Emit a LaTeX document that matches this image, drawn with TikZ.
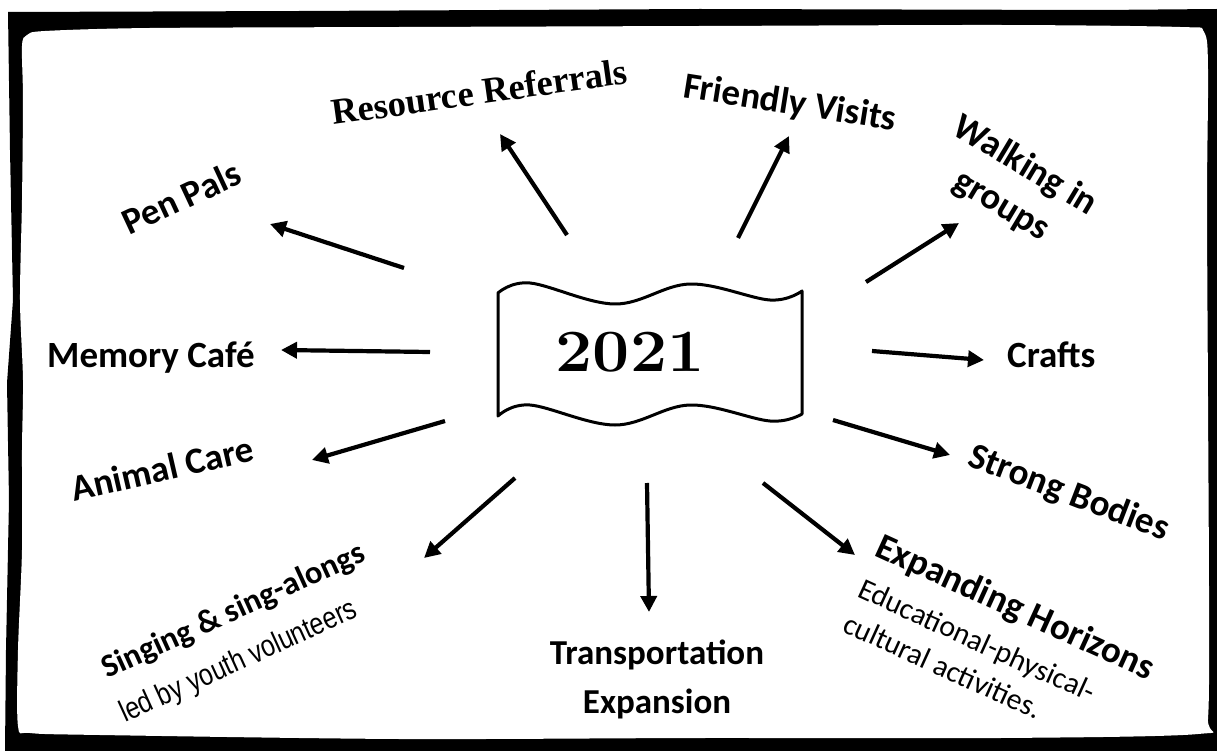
\documentclass[tikz,border=0pt]{standalone}
\usepackage{fontspec}
\newfontfamily\cali{Carlito}
\newfontfamily\serifb{Liberation Serif}
\newfontfamily\narrowf[FakeStretch=0.82]{Liberation Sans}
\usetikzlibrary{arrows.meta}
\newcommand\lbf{\cali\bfseries\fontsize{37}{46}\selectfont}
\tikzset{
  lbl/.style={inner sep=0pt, font=\lbf},
  sub/.style={inner sep=0pt},
  arr/.style={line width=4.2pt, -{Triangle[length=16pt,width=16pt]}},
  banner/.style={line width=3pt, line join=round, fill=white},
}
\begin{document}
\begin{tikzpicture}[x=1pt,y=-1pt]
\useasboundingbox (0,0) rectangle (1217,751);
\fill[white] (0,0) rectangle (1217,751);
% frame
\fill[black] (8,12) -- (300,11) -- (700,9) -- (1100,10) -- (1217,9) -- (1217,751) -- (5,751)
  -- (6,650) -- (9,500) -- (7,383) -- (13,300) -- (10,150) -- cycle;
\fill[white] plot[smooth cycle, tension=0.5] coordinates {
  (22,46) (27,35) (45,31) (150,28) (400,27) (700,26) (1000,25) (1180,27) (1204,32)
  (1208,70) (1207,200) (1208,400) (1209,600) (1208,718) (1198,734) (1000,738) (700,738)
  (400,739) (100,735) (30,733) (18,726) (18,650) (22,550) (22,450) (23,380) (20,300)
  (22,200) (23,100)};
% banner
\draw[banner] plot[smooth, tension=0.6] coordinates {(498,293) (530,283) (615,304) (690,284) (770,300) (802,291)}
  -- plot[smooth, tension=0.6] coordinates {(802,414) (770,421) (690,405) (615,425) (530,405) (498,416)} -- cycle;
\node[inner sep=0pt] (year) at (630,352) {\bfseries\fontsize{60}{60}\selectfont\scalebox{1.1}[1]{2021}};
% labels
\node[lbl, anchor=base west, rotate=25] (penpals) at (129,236) {Pen Pals};
\node[lbl, font=\serifb\bfseries\fontsize{36.5}{40}\selectfont, anchor=base west, rotate=8] (resref) at (333,125) {Resource Referrals};
\node[lbl, anchor=base west, rotate=-9] (friendly) at (682,97) {Friendly Visits};
\node[lbl, align=center, rotate=-31] (walking) at (1013,186) {Walking in\\groups};
\node[lbl, anchor=base west] (memory) at (47,367) {Memory Café};
\node[lbl, anchor=base west] (crafts) at (1007,367) {Crafts};
\node[lbl, anchor=base west, rotate=13] (animal) at (74,502) {Animal Care};
\node[lbl, anchor=base west, rotate=-21] (strong) at (966,465) {Strong Bodies};
\node[lbl, font=\cali\bfseries\fontsize{32.5}{40}\selectfont, anchor=base west, rotate=24.5] (singing) at (107,679) {Singing \& sing-alongs};
\node[sub, font=\narrowf\fontsize{30.5}{36}\selectfont, anchor=base west, rotate=24.5] (youth) at (125,723) {led by youth volunteers};
\node[lbl, align=center, font=\cali\bfseries\fontsize{35}{49}\selectfont] (transport) at (657,679) {Transportation\\Expansion};
\node[lbl, anchor=base west, rotate=-24.5] (expanding) at (873,555) {Expanding Horizons};
\node[sub, font=\cali\fontsize{30}{36}\selectfont, anchor=base west, rotate=-24.5] (edu1) at (856,596) {Educational-physical-};
\node[sub, font=\cali\fontsize{30}{36}\selectfont, anchor=base west, rotate=-24.5] (edu2) at (841,631) {cultural activities.};
% arrows
\coordinate (ppA) at (404,268); \coordinate (ppB) at (270,224);
\coordinate (rrA) at (567,235); \coordinate (rrB) at (500,134);
\coordinate (fvA) at (738,238); \coordinate (fvB) at (789,136);
\coordinate (wgA) at (866,282); \coordinate (wgB) at (959,223);
\coordinate (mcA) at (430,352); \coordinate (mcB) at (281,350);
\coordinate (crA) at (872,351); \coordinate (crB) at (984,360);
\coordinate (acA) at (445,421); \coordinate (acB) at (312,460);
\coordinate (sbA) at (833,420); \coordinate (sbB) at (950,455);
\coordinate (ssA) at (515,478); \coordinate (ssB) at (424,558);
\coordinate (teA) at (647,483); \coordinate (teB) at (649,612);
\coordinate (ehA) at (763,483); \coordinate (ehB) at (855,555);
\draw[arr] (ppA) -- (ppB);
\draw[arr] (rrA) -- (rrB);
\draw[arr] (fvA) -- (fvB);
\draw[arr] (wgA) -- (wgB);
\draw[arr] (mcA) -- (mcB);
\draw[arr] (crA) -- (crB);
\draw[arr] (acA) -- (acB);
\draw[arr] (sbA) -- (sbB);
\draw[arr] (ssA) -- (ssB);
\draw[arr] (teA) -- (teB);
\draw[arr] (ehA) -- (ehB);
\end{tikzpicture}
\end{document}
